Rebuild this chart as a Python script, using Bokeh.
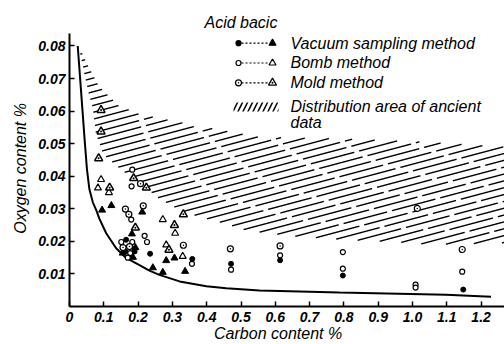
import numpy as np
from bokeh.plotting import figure
from bokeh.models import FixedTicker, Label
from bokeh.embed import file_html
from bokeh.resources import INLINE

# ---------------- data (carbon %, oxygen %) ----------------
# Vacuum sampling method
vac_acid_c = [0.165, 0.163, 0.190, 0.235, 0.358, 0.471, 0.614, 0.797, 1.148, 0.177]
vac_acid_o = [0.0205, 0.0169, 0.0169, 0.0162, 0.0146, 0.0131, 0.0142, 0.0095, 0.0052, 0.0156]
vac_basic_c = [0.095, 0.122, 0.212, 0.182, 0.192, 0.185, 0.155, 0.243, 0.272, 0.282, 0.306, 0.337]
vac_basic_o = [0.0296, 0.0310, 0.0290, 0.0223, 0.0181, 0.0151, 0.0164, 0.0119, 0.0105, 0.0141, 0.0149, 0.0108]
# Bomb method
bomb_acid_c = [0.183, 0.181, 0.180, 0.219, 0.226, 0.151, 0.183, 0.177, 0.170, 0.357, 0.471, 0.614, 0.797, 0.797, 1.009, 1.009, 1.145]
bomb_acid_o = [0.0420, 0.0369, 0.0267, 0.0217, 0.0198, 0.0198, 0.0198, 0.0164, 0.0150, 0.0131, 0.0113, 0.0157, 0.0167, 0.0116, 0.0067, 0.0058, 0.0107]
bomb_basic_c = [0.092, 0.083, 0.115, 0.272, 0.308, 0.282, 0.330]
bomb_basic_o = [0.0390, 0.0364, 0.0350, 0.0267, 0.0225, 0.0189, 0.0154]
# Mold method
mold_acid_c = [0.207, 0.215, 0.163, 0.173, 0.175, 0.156, 0.332, 0.469, 0.614, 1.014, 1.145]
mold_acid_o = [0.0377, 0.0309, 0.0299, 0.0283, 0.0184, 0.0181, 0.0188, 0.0177, 0.0186, 0.0301, 0.0175]
mold_basic_c = [0.092, 0.092, 0.085, 0.117, 0.187, 0.224, 0.192, 0.306, 0.332, 0.290]
mold_basic_o = [0.0603, 0.0537, 0.0455, 0.0365, 0.0394, 0.0365, 0.0242, 0.0250, 0.0283, 0.0174]

# Limit curve
curve_c = [0.024, 0.031, 0.038, 0.045, 0.051, 0.058, 0.068, 0.078, 0.087, 0.107, 0.136, 0.165,
           0.204, 0.233, 0.262, 0.321, 0.399, 0.457, 0.554, 0.787, 1.098, 1.229]
curve_o = [0.0800, 0.0700, 0.0600, 0.0500, 0.0420, 0.0360, 0.0320, 0.0296, 0.0270, 0.0225, 0.0179, 0.0149,
           0.0127, 0.0110, 0.0097, 0.0077, 0.0062, 0.0056, 0.0049, 0.0043, 0.0036, 0.0030]

# Distribution area of ancient data (boundaries)
area_upper_c = [0.026, 0.058, 0.087, 0.146, 0.233, 0.400, 0.554, 0.800, 1.040, 1.270]
area_upper_o = [0.0800, 0.0733, 0.0675, 0.0614, 0.0584, 0.0550, 0.0520, 0.0515, 0.0505, 0.0490]
area_lower_c = [0.026, 0.053, 0.068, 0.076, 0.097, 0.140, 0.184, 0.224, 0.262, 0.330, 0.450,
                0.520, 0.660, 0.800, 0.950, 1.050, 1.270]
area_lower_o = [0.0800, 0.0666, 0.0605, 0.0535, 0.0468, 0.0429, 0.0392, 0.0362, 0.0331, 0.0290, 0.0255,
                0.0232, 0.0215, 0.0205, 0.0198, 0.0190, 0.0195]

x_ticks = [0, 0.1, 0.2, 0.3, 0.4, 0.5, 0.6, 0.7, 0.8, 0.9, 1.0, 1.1, 1.2]
x_tick_labels = ["0", "0.1", "0.2", "0.3", "0.4", "0.5", "0.6", "0.7", "0.8", "0.9", "1.0", "1.1", "1.2"]
y_ticks = [0.01, 0.02, 0.03, 0.04, 0.05, 0.06, 0.07, 0.08]
y_tick_labels = ["0.01", "0.02", "0.03", "0.04", "0.05", "0.06", "0.07", "0.08"]

legend_header = "Acid  bacic"
legend_labels = ["Vacuum sampling method", "Bomb method", "Mold method",
                 "Distribution area of ancient", "data"]

# ---------------- layout ----------------
FONT = "Liberation Sans"
LEFT, TOP, BOTTOM = 69, 12, 35
W, H = 504, 344
PXC = 343.0     # px per 1 % carbon
PXO = 3290.0    # px per 1 % oxygen
X_END = (W - LEFT) / PXC
Y_END = (H - BOTTOM - TOP) / PXO

p = figure(width=W, height=H, output_backend="svg", toolbar_location=None,
           x_range=(0, X_END), y_range=(0, Y_END),
           min_border_left=LEFT, min_border_right=0, min_border_top=TOP, min_border_bottom=BOTTOM)
p.outline_line_color = None
p.grid.visible = False
p.background_fill_color = "white"
p.border_fill_color = "white"

p.xaxis.ticker = FixedTicker(ticks=x_ticks)
p.xaxis.major_label_overrides = {t: l for t, l in zip(x_ticks, x_tick_labels)}
p.yaxis.ticker = FixedTicker(ticks=y_ticks)
p.yaxis.major_label_overrides = {t: l for t, l in zip(y_ticks, y_tick_labels)}
p.yaxis.bounds = (0, 0.0839)

for ax in (p.xaxis, p.yaxis):
    ax.axis_line_width = 2
    ax.axis_line_color = "black"
    ax.major_tick_line_color = "black"
    ax.major_tick_line_width = 1.5
    ax.minor_tick_line_color = None
    ax.major_tick_in = 5
    ax.major_tick_out = 0
    ax.major_label_text_font = FONT
    ax.major_label_text_font_style = "bold italic"
    ax.major_label_text_font_size = "14px"
    ax.major_label_text_color = "black"
    ax.axis_label_text_font = FONT
    ax.axis_label_text_font_style = "italic"
    ax.axis_label_text_font_size = "16px"
    ax.axis_label_text_color = "black"

p.xaxis.major_label_standoff = 5
p.xaxis.axis_label_standoff = 0
p.xaxis.axis_label = "Carbon   content   %"
p.yaxis.major_label_standoff = 4
p.yaxis.axis_label_standoff = 6
p.yaxis.axis_label = "Oxygen   content   %"

# ---------------- hatched area ----------------
cc = np.linspace(0, X_END, 1500)
up = np.interp(cc, area_upper_c, area_upper_o, left=np.nan, right=np.nan)
lo = np.interp(cc, area_lower_c, area_lower_o, left=np.nan, right=np.nan)
slope = 0.028
spacing = 0.0021
hx, hy = [], []
for c0 in np.arange(-0.02, 0.082, spacing):
    oo = c0 + slope * cc
    inside = (oo > lo) & (oo < up)
    edges = np.flatnonzero(np.diff(np.concatenate([[0], inside.astype(int), [0]])))
    for a, b in zip(edges[::2], edges[1::2]):
        if b - a >= 2:
            hx.append(cc[a:b].tolist())
            hy.append(oo[a:b].tolist())
p.multi_line(hx, hy, line_color="black", line_width=1.4, line_dash="45 5")

# ---------------- curve ----------------
p.line(curve_c, curve_o, line_color="black", line_width=2)

# ---------------- points ----------------
p.scatter(vac_acid_c, vac_acid_o, marker="circle", size=5, fill_color="black", line_color="black")
p.scatter(vac_basic_c, vac_basic_o, marker="triangle", size=7, fill_color="black", line_color="black")
p.scatter(bomb_acid_c, bomb_acid_o, marker="circle", size=5, fill_color="white", line_color="black", line_width=1.2)
p.scatter(bomb_basic_c, bomb_basic_o, marker="triangle", size=7, fill_color="white", line_color="black", line_width=1.2)
p.scatter(mold_acid_c, mold_acid_o, marker="circle_dot", size=6, fill_color="white", line_color="black", line_width=1.2)
p.scatter(mold_basic_c, mold_basic_o, marker="triangle_dot", size=8, fill_color="white", line_color="black", line_width=1.5)

# ---------------- legend (page-pixel layout converted to data) ----------------
Y0 = H - BOTTOM
def cx(px):
    return (px - LEFT) / PXC
def oy(py):
    return (Y0 - py) / PXO

def add_text(px, py, txt):
    p.add_layout(Label(x=cx(px), y=oy(py), text=txt, text_font=FONT, text_font_style="italic",
                       text_font_size="16px", text_baseline="middle", text_color="black"))

add_text(204, 22, legend_header)
rows_y = [43, 63, 83]
styles = [("circle", 5, "black", "triangle", 7, "black"),
          ("circle", 5, "white", "triangle", 7, "white"),
          ("circle_dot", 6, "white", "triangle_dot", 8, "white")]
for ry, st, lab in zip(rows_y, styles, legend_labels[:3]):
    p.segment(x0=[cx(241)], y0=[oy(ry)], x1=[cx(269)], y1=[oy(ry)], line_color="black",
              line_width=1.2, line_dash="2 2")
    p.scatter([cx(238)], [oy(ry)], marker=st[0], size=st[1], fill_color=st[2], line_color="black", line_width=1.2)
    p.scatter([cx(272)], [oy(ry)], marker=st[3], size=st[4], fill_color=st[5], line_color="black", line_width=1.2)
    add_text(290, ry, lab)
p.quad(left=[cx(233)], right=[cx(278)], bottom=[oy(112)], top=[oy(103)], fill_alpha=0, line_alpha=0,
       hatch_pattern="/", hatch_color="black", hatch_scale=10, hatch_weight=1.5)
add_text(290, 107, legend_labels[3])
add_text(290, 123, legend_labels[4])

open("out.html", "w").write(file_html(p, INLINE))
